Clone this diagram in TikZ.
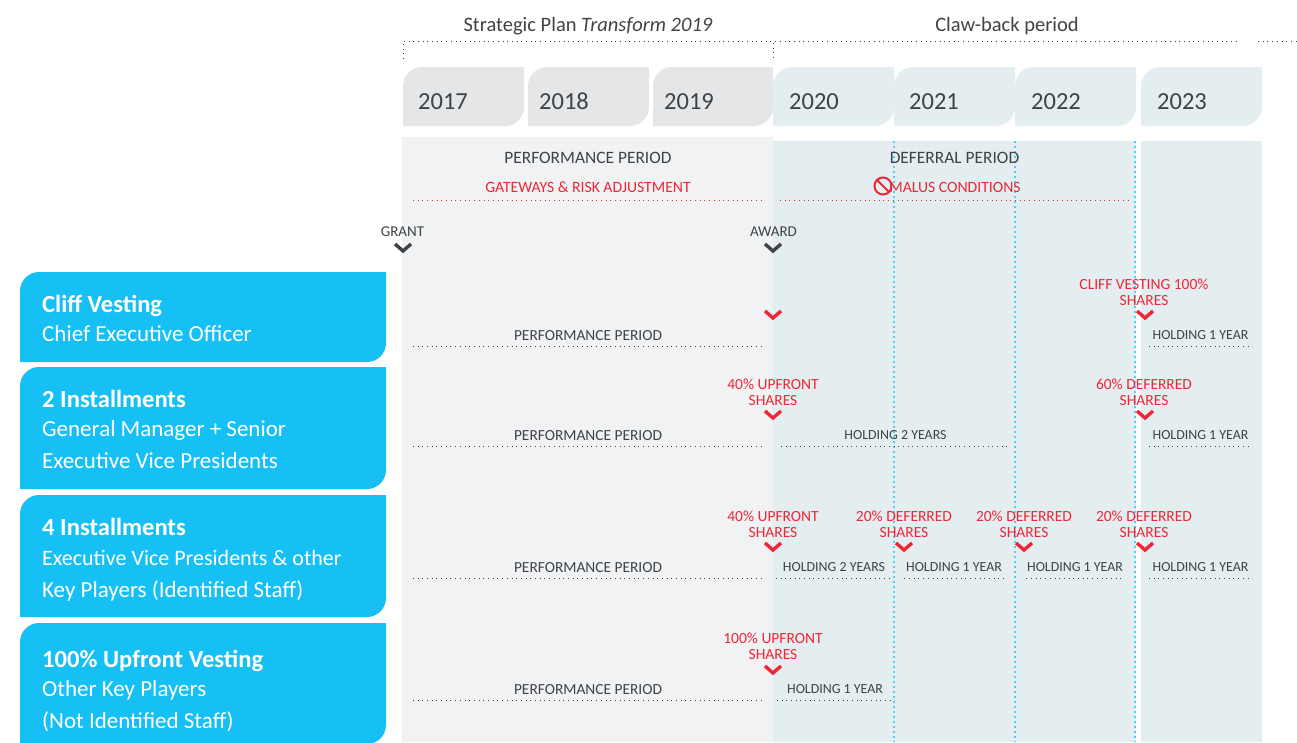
\documentclass[tikz,border=0pt]{standalone}
\usepackage{fontspec}
\setmainfont{Carlito}
\usetikzlibrary{positioning}

\definecolor{panelgrey}{HTML}{F1F2F4}
\definecolor{panelteal}{HTML}{E4EDF0}
\definecolor{tabgrey}{HTML}{E5E6E8}
\definecolor{boxblue}{HTML}{16C0F5}
\definecolor{sharered}{HTML}{EE2737}
\definecolor{inkgrey}{HTML}{3F4346}
\definecolor{gridblue}{HTML}{4FCFF5}

% corner cut at top left and bottom right only
\newcommand{\tabpath}[4]{(#1,#4) [rounded corners=19pt] -- (#1,#2) [sharp corners] -- (#3,#2) [rounded corners=19pt] -- (#3,#4) [sharp corners] -- cycle}

\tikzset{
  node distance=2pt, auto,
  headlabel/.style={font=\fontsize{20.5}{20.5}\selectfont, text=inkgrey, inner sep=0pt},
  yearlabel/.style={font=\fontsize{24.5}{24.5}\selectfont, text=inkgrey, inner sep=0pt, anchor=base west},
  bandlabel/.style={font=\fontsize{17.4}{17.4}\selectfont, text=inkgrey, inner sep=0pt},
  redlabel/.style={font=\fontsize{15.7}{15.7}\selectfont, text=sharered, inner sep=0pt},
  marklabel/.style={font=\fontsize{15}{15}\selectfont, text=inkgrey, inner sep=0pt},
  sharelabel/.style={font=\fontsize{15.5}{16}\selectfont, text=sharered, inner sep=0pt, align=center},
  rowlabel/.style={font=\fontsize{15.4}{15.4}\selectfont, text=inkgrey, inner sep=0pt, minimum height=20pt},
  holdlabel/.style={font=\fontsize{13.9}{13.9}\selectfont, text=inkgrey, inner sep=0pt, minimum height=22pt},
  boxtitle/.style={font=\fontsize{24.6}{24.6}\selectfont\bfseries, text=white, inner sep=0pt, anchor=base west},
  boxtext/.style={font=\fontsize{23}{23}\selectfont, text=white, inner sep=0pt, anchor=base west},
  dotline/.style={inkgrey, line width=0.9pt, dash pattern=on 1pt off 3.7pt},
  reddots/.style={sharered, line width=0.9pt, dash pattern=on 1pt off 3.7pt},
  griddots/.style={gridblue, line width=1.2pt, dash pattern=on 1.5pt off 3.5pt},
  darkmark/.pic={\draw[inkgrey, line width=3.4pt] (-8,-4) -- (0,3) -- (8,-4);},
  redmark/.pic={\draw[sharered, line width=3.4pt] (-8,-4) -- (0,3) -- (8,-4);}
}

\begin{document}
\begin{tikzpicture}[x=1pt, y=-1pt]
  \useasboundingbox (0,0) rectangle (1297,742);
  \clip (0,0) rectangle (1297,742);

  % panels
  \fill[panelteal] (773,141) rectangle (1136,742);
  \fill[panelteal] (1141,141) rectangle (1262,742);
  \fill[panelgrey] (402,137) rectangle (773,742);
  \draw[griddots] (894,141) -- (894,742);
  \draw[griddots] (1015,141) -- (1015,742);
  \draw[griddots] (1135,141) -- (1135,742);

  % top brackets
  \node[headlabel] (plan) at (588,26) {Strategic Plan \textit{Transform 2019}};
  \node[headlabel] (claw) at (1007,26) {Claw-back period};
  \coordinate (planl) at (403,41);
  \coordinate (planm) at (773,41);
  \coordinate (planr) at (1240,41);
  \coordinate (restl) at (1258,41);
  \coordinate (restr) at (1297,41);
  \coordinate (planld) at (403,59);
  \coordinate (planmd) at (773,58);
  \draw[dotline] (planld) -- (planl) -- (planr);
  \draw[dotline] (planmd) -- (planm);
  \draw[dotline] (restl) -- (restr);

  % years
  \fill[tabgrey] \tabpath{403}{67}{524}{126};
  \fill[tabgrey] \tabpath{528}{67}{649}{126};
  \fill[tabgrey] \tabpath{653}{67}{773}{126};
  \fill[panelteal] \tabpath{773}{67}{894}{126};
  \fill[panelteal] \tabpath{894}{67}{1015}{126};
  \fill[panelteal] \tabpath{1015}{67}{1136}{126};
  \fill[panelteal] \tabpath{1141}{67}{1262}{126};
  \node[yearlabel] (y2017) at (418,109) {2017};
  \node[yearlabel] (y2018) at (539,109) {2018};
  \node[yearlabel] (y2019) at (664,109) {2019};
  \node[yearlabel] (y2020) at (789,109) {2020};
  \node[yearlabel] (y2021) at (909,109) {2021};
  \node[yearlabel] (y2022) at (1031,109) {2022};
  \node[yearlabel] (y2023) at (1157,109) {2023};

  % period headers
  \node[bandlabel] (perf) at (588,158) {PERFORMANCE PERIOD};
  \node[bandlabel] (defer) at (954.5,158) {DEFERRAL PERIOD};
  \node[redlabel] (gate) at (588,187) {GATEWAYS \& RISK ADJUSTMENT};
  \node[redlabel] (malus) at (955,187) {MALUS CONDITIONS};
  \node[draw=sharered, line width=2pt, circle, minimum size=17pt, inner sep=0pt] (stop) at (883,186) {};
  \draw[sharered, line width=2pt] (stop.north west) -- (stop.south east);
  \coordinate (gatel) at (413,200);
  \coordinate (gater) at (763,200);
  \coordinate (malusl) at (780,200);
  \coordinate (malusr) at (1130,200);
  \draw[reddots] (gatel) -- (gater);
  \draw[reddots] (malusl) -- (malusr);
  \node[marklabel] (grant) at (402.5,231.5) {GRANT};
  \node[marklabel] (award) at (773.5,231.5) {AWARD};
  \pic at (403,248) {darkmark};
  \pic at (773,248) {darkmark};

  % left boxes
  \fill[boxblue] \tabpath{20}{272}{386}{362};
  \fill[boxblue] \tabpath{20}{367}{386}{489};
  \fill[boxblue] \tabpath{20}{495}{386}{617};
  \fill[boxblue] \tabpath{20}{623}{386}{744};
  \node[boxtitle] (cliff) at (42,312) {Cliff Vesting};
  \node[boxtext] (cliffa) at (42,341) {Chief Executive Officer};
  \node[boxtitle] (two) at (42,407) {2 Installments};
  \node[boxtext] (twoa) at (42,436) {General Manager + Senior};
  \node[boxtext] (twob) at (42,468) {Executive Vice Presidents};
  \node[boxtitle] (four) at (42,535) {4 Installments};
  \node[boxtext, font=\fontsize{22}{22}\selectfont] (foura) at (42,565) {Executive Vice Presidents \& other};
  \node[boxtext] (fourb) at (42,597) {Key Players (Identified Staff)};
  \node[boxtitle] (full) at (42,667) {100\% Upfront Vesting};
  \node[boxtext] (fulla) at (42,696) {Other Key Players};
  \node[boxtext] (fullb) at (42,728) {(Not Identified Staff)};

  % row 1
  \node[rowlabel, minimum width=350pt] (perfa) at (588,336) {PERFORMANCE PERIOD};
  \node[holdlabel, minimum width=103pt] (holda) at (1200.5,335) {HOLDING 1 YEAR};
  \draw[dotline] (perfa.south west) -- (perfa.south east);
  \draw[dotline] (holda.south west) -- (holda.south east);
  \node[sharelabel] (sharea) at (1144,292) {CLIFF VESTING 100\%\\SHARES};
  \pic at (773,315) {redmark};
  \pic at (1145,315) {redmark};

  % row 2
  \node[rowlabel, minimum width=350pt] (perfb) at (588,436) {PERFORMANCE PERIOD};
  \node[holdlabel, minimum width=229pt] (holdb) at (895.5,435) {HOLDING 2 YEARS};
  \node[holdlabel, minimum width=103pt] (holdc) at (1200.5,435) {HOLDING 1 YEAR};
  \draw[dotline] (perfb.south west) -- (perfb.south east);
  \draw[dotline] (holdb.south west) -- (holdb.south east);
  \draw[dotline] (holdc.south west) -- (holdc.south east);
  \node[sharelabel] (shareb) at (773,392) {40\% UPFRONT\\SHARES};
  \node[sharelabel] (sharec) at (1144,392) {60\% DEFERRED\\SHARES};
  \pic at (773,415) {redmark};
  \pic at (1145,415) {redmark};

  % row 3
  \node[rowlabel, minimum width=350pt] (perfc) at (588,568) {PERFORMANCE PERIOD};
  \node[holdlabel, minimum width=116pt] (holdd) at (834,567) {HOLDING 2 YEARS};
  \node[holdlabel, minimum width=99pt] (holde) at (954,567) {HOLDING 1 YEAR};
  \node[holdlabel, minimum width=97pt] (holdf) at (1075,567) {HOLDING 1 YEAR};
  \node[holdlabel, minimum width=103pt] (holdg) at (1200.5,567) {HOLDING 1 YEAR};
  \draw[dotline] (perfc.south west) -- (perfc.south east);
  \draw[dotline] (holdd.south west) -- (holdd.south east);
  \draw[dotline] (holde.south west) -- (holde.south east);
  \draw[dotline] (holdf.south west) -- (holdf.south east);
  \draw[dotline] (holdg.south west) -- (holdg.south east);
  \node[sharelabel] (shared) at (773,524) {40\% UPFRONT\\SHARES};
  \node[sharelabel] (sharee) at (904,524) {20\% DEFERRED\\SHARES};
  \node[sharelabel] (sharef) at (1024,524) {20\% DEFERRED\\SHARES};
  \node[sharelabel] (shareg) at (1144,524) {20\% DEFERRED\\SHARES};
  \pic at (773,547) {redmark};
  \pic at (904,547) {redmark};
  \pic at (1024,547) {redmark};
  \pic at (1145,547) {redmark};

  % row 4
  \node[rowlabel, minimum width=350pt] (perfd) at (588,690) {PERFORMANCE PERIOD};
  \node[holdlabel, minimum width=116pt] (holdh) at (835,689) {HOLDING 1 YEAR};
  \draw[dotline] (perfd.south west) -- (perfd.south east);
  \draw[dotline] (holdh.south west) -- (holdh.south east);
  \node[sharelabel] (shareh) at (773,646) {100\% UPFRONT\\SHARES};
  \pic at (773,670) {redmark};
\end{tikzpicture}
\end{document}
